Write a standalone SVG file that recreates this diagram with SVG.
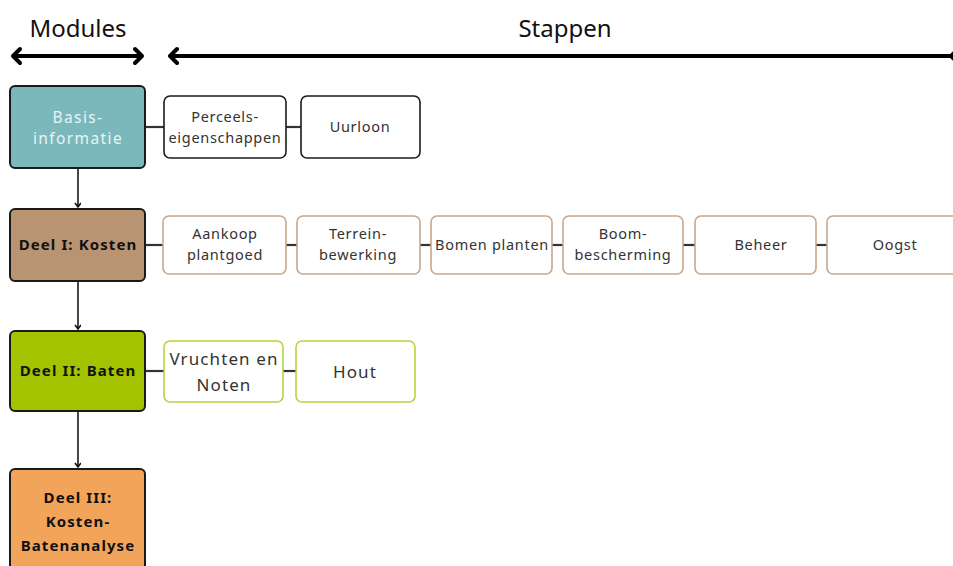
<svg xmlns="http://www.w3.org/2000/svg" width="953" height="566" viewBox="0 0 953 566">
<defs>
<marker id="ah" markerWidth="10" markerHeight="10" refX="5" refY="3" orient="auto" markerUnits="userSpaceOnUse">
<path d="M1,0 L5,3 L1,6" fill="none" stroke="#111" stroke-width="1.6"/>
</marker>
<style>
text{font-family:"Noto Sans","Open Sans",sans-serif;text-anchor:middle}
.mod{stroke:#1a1a1a;stroke-width:2}
.mt{font-size:15px;font-weight:bold;fill:#111;letter-spacing:1.1px}
.st{fill:#fff;stroke-width:1.6}
.stt{font-size:14.5px;fill:#333;letter-spacing:0.7px}
.lg{font-size:17px;letter-spacing:1.1px}
.k{stroke:#1a1a1a;stroke-width:1.6}
.c{stroke:#333;stroke-width:2.2;fill:none}
.big{stroke:#000;stroke-width:4;fill:none;stroke-linecap:round;stroke-linejoin:round}
.hd{font-size:24px;fill:#111}
</style>
</defs>
<rect width="953" height="566" fill="#fff"/>

<g id="headers">
<text class="hd" x="78" y="37">Modules</text>
<text class="hd" x="565" y="37">Stappen</text>
<path class="big" d="M13,56 H142 M20,49 L13,56 L20,63 M135,49 L142,56 L135,63"/>
<path class="big" d="M170,56 H953 M177,49 L170,56 L177,63 M958,49 L951,56 L958,63"/>
</g>

<g id="connectors">
<line class="k" x1="78" y1="168" x2="78" y2="207" marker-end="url(#ah)"/>
<line class="k" x1="78" y1="281" x2="78" y2="329" marker-end="url(#ah)"/>
<line class="k" x1="78" y1="411" x2="78" y2="467" marker-end="url(#ah)"/>
<line class="c" x1="145" y1="127" x2="164" y2="127"/>
<line class="c" x1="286" y1="127" x2="301" y2="127"/>
<line class="c" x1="145" y1="245" x2="163" y2="245"/>
<line class="c" x1="286" y1="245" x2="297" y2="245"/>
<line class="c" x1="420" y1="245" x2="431" y2="245"/>
<line class="c" x1="552" y1="245" x2="563" y2="245"/>
<line class="c" x1="683" y1="245" x2="695" y2="245"/>
<line class="c" x1="816" y1="245" x2="827" y2="245"/>
<line class="c" x1="145" y1="371" x2="164" y2="371"/>
<line class="c" x1="283" y1="371" x2="296" y2="371"/>
</g>

<g id="basis">
<rect class="mod" x="10" y="86" width="135" height="82" rx="5" fill="#7ab8bb"/>
<text x="78" y="123" font-size="15.5" fill="#e8f4f4" letter-spacing="1.4">Basis-</text>
<text x="78" y="144" font-size="15.5" fill="#e8f4f4" letter-spacing="1.4">informatie</text>
</g>
<g id="perceels">
<rect class="st" x="164" y="96" width="122" height="62" rx="6" stroke="#1a1a1a"/>
<text class="stt" x="225" y="122">Perceels-</text>
<text class="stt" x="225" y="143">eigenschappen</text>
</g>
<g id="uurloon">
<rect class="st" x="301" y="96" width="119" height="62" rx="6" stroke="#1a1a1a"/>
<text class="stt" x="360" y="132">Uurloon</text>
</g>

<g id="kosten">
<rect class="mod" x="10" y="209" width="135" height="72" rx="5" fill="#b99472"/>
<text class="mt" x="78" y="250">Deel I: Kosten</text>
</g>
<g id="aankoop">
<rect class="st" x="163" y="216" width="123" height="58" rx="6" stroke="#c9a688"/>
<text class="stt" x="225" y="239">Aankoop</text>
<text class="stt" x="225" y="260">plantgoed</text>
</g>
<g id="terrein">
<rect class="st" x="297" y="216" width="123" height="58" rx="6" stroke="#c9a688"/>
<text class="stt" x="358" y="239">Terrein-</text>
<text class="stt" x="358" y="260">bewerking</text>
</g>
<g id="bomen">
<rect class="st" x="431" y="216" width="121" height="58" rx="6" stroke="#c9a688"/>
<text class="stt" x="492" y="250">Bomen planten</text>
</g>
<g id="boombescherming">
<rect class="st" x="563" y="216" width="120" height="58" rx="6" stroke="#c9a688"/>
<text class="stt" x="623" y="239">Boom-</text>
<text class="stt" x="623" y="260">bescherming</text>
</g>
<g id="beheer">
<rect class="st" x="695" y="216" width="121" height="58" rx="6" stroke="#c9a688"/>
<text class="stt" x="761" y="250">Beheer</text>
</g>
<g id="oogst">
<rect class="st" x="827" y="216" width="135" height="58" rx="6" stroke="#c9a688"/>
<text class="stt" x="895" y="250">Oogst</text>
</g>

<g id="baten">
<rect class="mod" x="10" y="331" width="135" height="80" rx="5" fill="#a3c200"/>
<text class="mt" x="78" y="376">Deel II: Baten</text>
</g>
<g id="vruchten">
<rect class="st" x="164" y="341" width="119" height="61" rx="6" stroke="#b6d43c"/>
<text class="stt lg" x="224" y="365">Vruchten en</text>
<text class="stt lg" x="224" y="391">Noten</text>
</g>
<g id="hout">
<rect class="st" x="296" y="341" width="119" height="61" rx="6" stroke="#b6d43c"/>
<text class="stt lg" x="355" y="378">Hout</text>
</g>

<g id="analyse">
<rect class="mod" x="10" y="469" width="135" height="110" rx="5" fill="#f2a55a"/>
<text class="mt" x="78" y="503">Deel III:</text>
<text class="mt" x="78" y="527">Kosten-</text>
<text class="mt" x="78" y="551">Batenanalyse</text>
</g>
</svg>
